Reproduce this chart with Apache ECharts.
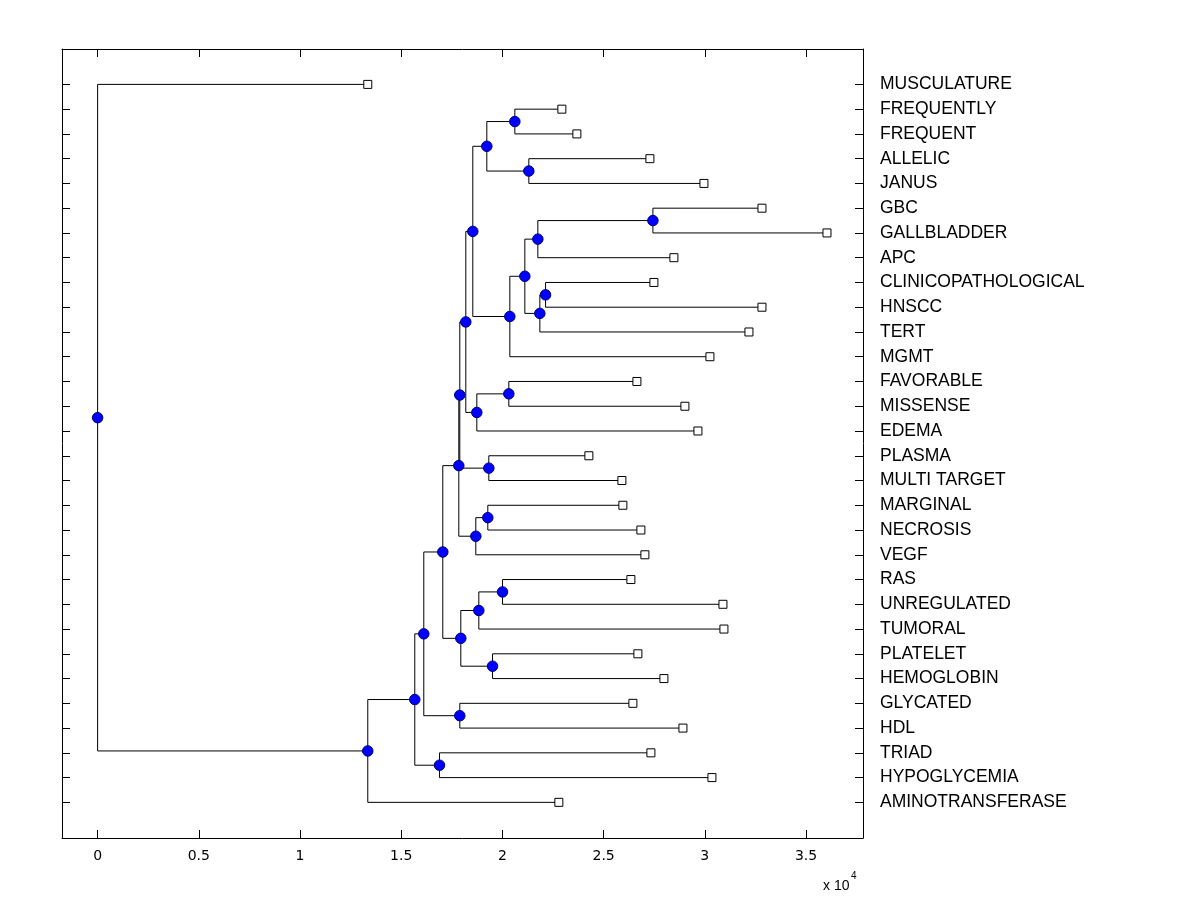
<!DOCTYPE html>
<html>
<head>
<meta charset="utf-8">
<script src="https://cdn.jsdelivr.net/npm/echarts@6/dist/echarts.min.js"></script>
<style>
  html, body {margin: 0; padding: 0; background: #fff;}
  #chart {width: 1200px; height: 900px;}
</style>
</head>
<body>
<div id="chart"></div>
<script>
// leaves, top to bottom
const leafNames = [
  'MUSCULATURE', 'FREQUENTLY', 'FREQUENT', 'ALLELIC', 'JANUS', 'GBC', 'GALLBLADDER', 'APC',
  'CLINICOPATHOLOGICAL', 'HNSCC', 'TERT', 'MGMT', 'FAVORABLE', 'MISSENSE', 'EDEMA', 'PLASMA',
  'MULTI TARGET', 'MARGINAL', 'NECROSIS', 'VEGF', 'RAS', 'UNREGULATED', 'TUMORAL', 'PLATELET',
  'HEMOGLOBIN', 'GLYCATED', 'HDL', 'TRIAD', 'HYPOGLYCEMIA', 'AMINOTRANSFERASE'
]
const leafHeights = [
  13347, 22936, 23678, 27286, 29956, 32823, 36035, 28472,
  27484, 32823, 32180, 30252, 26644, 29016, 29659, 24271,
  25902, 25951, 26841, 27039, 26347, 30895, 30944, 26693,
  27978, 26446, 28918, 27336, 30351, 22788
]

// internal nodes: node 30 + k joins mergeLeft[k] and mergeRight[k]
const mergeLeft = [1, 3, 30, 5, 33, 8, 35, 34, 37, 32, 12, 40, 39, 15, 42, 17, 45, 44, 20, 48, 23, 49, 47, 25, 52, 27, 54, 56, 0]
const mergeRight = [2, 4, 31, 6, 7, 9, 10, 36, 11, 38, 13, 14, 41, 16, 43, 18, 19, 46, 21, 22, 24, 50, 51, 26, 53, 28, 55, 29, 57]
const mergeHeights = [
  20613, 21305, 19229, 27435, 21750, 22131, 21849, 21107, 20366, 18537,
  20316, 18735, 18191, 19328, 17894, 19278, 18685, 17845, 20005, 18834,
  19511, 17944, 17054, 17894, 16115, 16891, 15670, 13347, 0
]

const xTicks = [0, 5000, 10000, 15000, 20000, 25000, 30000, 35000]

const font = 'Arial, "Liberation Sans", Helvetica, sans-serif'
const tickFont = '"DejaVu Sans", Arial, sans-serif'
const n = leafNames.length
const leafTicks = leafNames.map((_, i) => i)

// place every node: leaves on their row, a join halfway between its children
const posX = leafHeights.slice()
const posY = leafTicks.slice()
mergeLeft.forEach((a, k) => {
  posX.push(mergeHeights[k])
  posY.push((posY[a] + posY[mergeRight[k]]) / 2)
})

const edges = []
mergeLeft.forEach((a, k) => {
  const p = n + k
  ;[a, mergeRight[k]].forEach(c => {
    edges.push({coords: [[posX[p], posY[p]], [posX[p], posY[c]], [posX[c], posY[c]]]})
  })
})

const xRange = {min: -1760, max: 37815}
const yRange = {min: -1.43, max: 30.44}
const lineStyle = {color: '#000', width: 1}

const chart = echarts.init(document.getElementById('chart'))
chart.setOption({
  animation: false,
  backgroundColor: '#fff',
  textStyle: {fontFamily: font},
  grid: {left: 62, right: 337, top: 49, bottom: 62, containLabel: false, outerBoundsMode: 'none'},
  xAxis: [{
    type: 'value',
    position: 'bottom',
    ...xRange,
    splitLine: {show: false},
    axisLine: {show: true, onZero: false, lineStyle},
    axisTick: {show: true, inside: true, length: 8, lineStyle, customValues: xTicks},
    axisLabel: {
      show: true, margin: 11, color: '#000', fontSize: 14, fontFamily: tickFont,
      customValues: xTicks,
      formatter: v => String(v / 10000)
    }
  }, {
    type: 'value',
    position: 'top',
    ...xRange,
    splitLine: {show: false},
    axisLine: {show: true, onZero: false, lineStyle},
    axisTick: {show: true, inside: true, length: 8, lineStyle, customValues: xTicks},
    axisLabel: {show: false}
  }],
  yAxis: [{
    type: 'value',
    position: 'left',
    inverse: true,
    ...yRange,
    splitLine: {show: false},
    axisLine: {show: true, onZero: false, lineStyle},
    axisTick: {show: true, inside: true, length: 8, lineStyle, customValues: leafTicks},
    axisLabel: {show: false}
  }, {
    type: 'value',
    position: 'right',
    inverse: true,
    ...yRange,
    splitLine: {show: false},
    axisLine: {show: true, onZero: false, lineStyle},
    axisTick: {show: true, inside: true, length: 8, lineStyle, customValues: leafTicks},
    axisLabel: {
      show: true, margin: 17, color: '#000', fontSize: 17.5, fontFamily: font,
      customValues: leafTicks,
      formatter: v => leafNames[Math.round(v)]
    }
  }],
  graphic: [
    {type: 'text', left: 823, top: 879, style: {text: 'x 10', fontSize: 14, fontFamily: font, fill: '#000'}},
    {type: 'text', left: 851, top: 871, style: {text: '4', fontSize: 10, fontFamily: font, fill: '#000'}}
  ],
  series: [{
    type: 'lines',
    coordinateSystem: 'cartesian2d',
    xAxisIndex: 0,
    yAxisIndex: 0,
    polyline: true,
    silent: true,
    z: 1,
    lineStyle: {color: '#000', width: 1, opacity: 1},
    data: edges
  }, {
    type: 'scatter',
    xAxisIndex: 0,
    yAxisIndex: 0,
    symbol: 'rect',
    symbolSize: 8,
    silent: true,
    z: 3,
    itemStyle: {color: '#fff', borderColor: '#000', borderWidth: 1, opacity: 1},
    data: leafHeights.map((h, i) => [h, i])
  }, {
    type: 'scatter',
    xAxisIndex: 0,
    yAxisIndex: 0,
    symbol: 'circle',
    symbolSize: 10.5,
    silent: true,
    z: 4,
    itemStyle: {color: '#0000ff', borderColor: '#00007a', borderWidth: 1, opacity: 1},
    data: mergeHeights.map((h, k) => [h, posY[n + k]])
  }]
})
</script>
</body>
</html>
